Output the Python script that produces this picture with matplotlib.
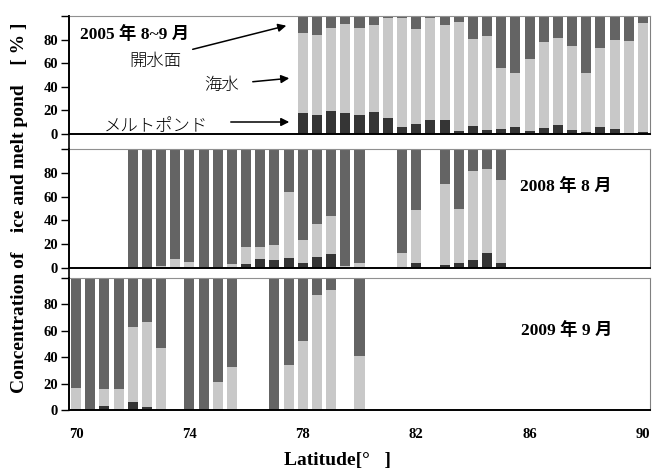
import matplotlib
matplotlib.use('Agg')
import matplotlib.pyplot as plt
from matplotlib.lines import Line2D
import numpy as np

# --- data (percent) ---
# 2005 Aug-Sep
lat_2005 = [78.0, 78.5, 79.0, 79.5, 80.0, 80.5, 81.0, 81.5, 82.0, 82.5, 83.0, 83.5, 84.0,
            84.5, 85.0, 85.5, 86.0, 86.5, 87.0, 87.5, 88.0, 88.5, 89.0, 89.5, 90.0]
pond_2005 = [17.6, 15.9, 19.3, 17.6, 15.9, 18.4, 13.3, 5.7, 8.2, 11.6, 11.6, 2.3, 6.5,
             3.1, 4.0, 5.7, 2.3, 4.8, 7.4, 3.1, 1.4, 5.7, 4.0, 0.6, 1.4]
ice_2005 = [68.0, 68.0, 70.5, 75.6, 73.9, 74.0, 85.0, 92.6, 80.8, 86.7, 80.8, 92.6, 74.0,
            79.9, 51.8, 45.9, 61.2, 73.1, 73.9, 71.4, 50.2, 67.1, 75.6, 78.2, 92.7]

# 2008 Aug
lat_2008 = [72.0, 72.5, 73.0, 73.5, 74.0, 74.5, 75.0, 75.5, 76.0, 76.5, 77.0, 77.5,
            78.0, 78.5, 79.0, 79.5, 80.0, 81.5, 82.0, 83.0, 83.5, 84.0, 84.5, 85.0]
pond_2008 = [0, 0, 0, 0, 0, 0, 0, 0, 3.6, 7.8, 7.0, 8.7,
             4.5, 9.5, 12.0, 0, 0, 0, 4.5, 2.8, 4.5, 7.0, 12.8, 4.5]
ice_2008 = [0, 0, 2.0, 7.8, 5.3, 1.1, 0, 3.6, 14.3, 10.1, 12.6, 55.3,
            19.2, 27.7, 31.9, 2.0, 4.5, 12.8, 44.4, 67.9, 45.2, 74.6, 70.4, 69.5]

# 2009 Sep
lat_2009 = [70.0, 70.5, 71.0, 71.5, 72.0, 72.5, 73.0, 74.0, 74.5, 75.0, 75.5,
            77.0, 77.5, 78.0, 78.5, 79.0, 80.0]
pond_2009 = [1.0, 0, 3.3, 0, 6.3, 2.0, 0, 0, 0, 1.0, 0, 0, 0, 0, 0, 0, 0]
ice_2009 = [15.9, 0, 12.8, 16.1, 56.7, 64.8, 47.1, 0, 0, 20.4, 32.7,
            0, 34.3, 52.4, 87.2, 90.9, 41.1]

titles = ['2005 年 8~9 月', '2008 年 8 月', '2009 年 9 月']
xticks = [70, 74, 78, 82, 86, 90]

c_pond = '#353535'
c_ice = '#c8c8c8'
c_open = '#646464'
serif = 'Liberation Serif'
mixed = ['Liberation Serif', 'Noto Sans CJK JP']

W, H = 658, 472
fig = plt.figure(figsize=(W / 100, H / 100), dpi=100)

# panel boxes in pixels: (top, bottom)
boxes = [(16, 134), (149, 268), (278, 410)]
left_px, right_px = 69, 650

datasets = [(lat_2005, pond_2005, ice_2005),
            (lat_2008, pond_2008, ice_2008),
            (lat_2009, pond_2009, ice_2009)]

axes = []
for i, ((top, bot), (lat, pond, ice)) in enumerate(zip(boxes, datasets)):
    ax = fig.add_axes([left_px / W, 1 - bot / H, (right_px - left_px) / W, (bot - top) / H])
    lat = np.array(lat)
    pond = np.array(pond, dtype=float)
    ice = np.array(ice, dtype=float)
    openw = 100 - pond - ice
    w = 0.353
    ax.bar(lat, pond, width=w, color=c_pond, linewidth=0)
    ax.bar(lat, ice, width=w, bottom=pond, color=c_ice, linewidth=0)
    ax.bar(lat, openw, width=w, bottom=pond + ice, color=c_open, linewidth=0)

    ax.set_xlim(69.75, 90.25)
    ax.set_ylim(0, 100)
    ax.set_yticks([0, 20, 40, 60, 80, 100])
    ax.set_yticklabels(['0', '20', '40', '60', '80', ''], fontfamily=serif,
                       fontweight='bold', fontsize=10.5)
    ax.tick_params(axis='y', direction='out', length=6, width=1, pad=2)
    ax.spines['left'].set_linewidth(1.2)
    ax.spines['bottom'].set_linewidth(1.4)
    ax.spines['bottom'].set_color('black')
    ax.spines['top'].set_color('#909090')
    ax.spines['right'].set_color('#808080')
    ax.set_xticks(xticks)
    ax.tick_params(axis='x', length=0)
    if i < 2:
        ax.set_xticklabels([])
    else:
        ax.set_xticklabels([str(t) for t in xticks], fontfamily=serif,
                           fontweight='bold', fontsize=10.5)
        ax.tick_params(axis='x', pad=13)
    axes.append(ax)

# continuous left axis line through the gaps
fig.add_artist(Line2D([left_px / W, left_px / W], [1 - 16 / H, 1 - 410 / H],
                      color='black', lw=1.2))

# titles of each season
fig.text(80 / W, 1 - 35 / H, titles[0], family=mixed, fontweight='bold',
         fontsize=12.5, va='center', ha='left')
fig.text(566 / W, 1 - 187 / H, titles[1], family=mixed, fontweight='bold',
         fontsize=12.5, va='center', ha='center')
fig.text(567 / W, 1 - 331 / H, titles[2], family=mixed, fontweight='bold',
         fontsize=12.5, va='center', ha='center')

# legend-ish labels with arrows (2005 panel)
ap = dict(arrowstyle='-|>', color='black', lw=1.1, mutation_scale=12)
def note(txt, xy_txt, xy_tail, xy_head):
    fig.text(xy_txt[0] / W, 1 - xy_txt[1] / H, txt, family=['Noto Sans CJK JP'],
             fontsize=12.5, fontweight='light', ha='center', va='center')
    fig.add_artist(matplotlib.patches.FancyArrowPatch(
        (xy_tail[0] / W, 1 - xy_tail[1] / H), (xy_head[0] / W, 1 - xy_head[1] / H),
        transform=fig.transFigure, **ap))

note('開水面', (155, 61), (190, 50), (289, 25))
note('海水', (222, 85), (250, 82), (292, 78))
note('メルトポンド', (156, 126), (228, 122), (292, 122))

# axis titles
fig.text(20 / W, 1 - 208 / H, 'Concentration of    ice and melt pond    [ % ]',
         rotation=90, family=serif, fontweight='bold', fontsize=14,
         ha='center', va='center')
fig.text(337 / W, 1 - 460 / H, 'Latitude[°   ]', family=serif, fontweight='bold',
         fontsize=14, ha='center', va='center')

fig.savefig('out.png', dpi=100)
